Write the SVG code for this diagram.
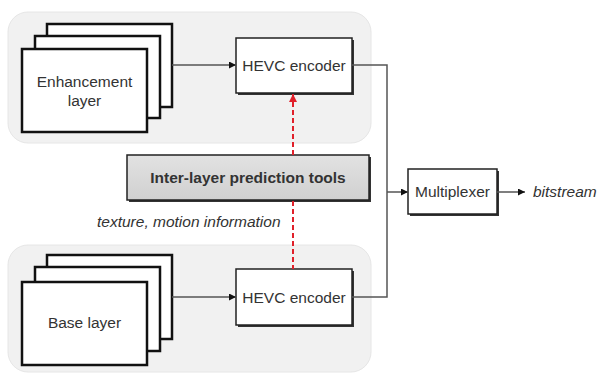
<svg xmlns="http://www.w3.org/2000/svg" width="600" height="374" viewBox="0 0 600 374">
<defs>
<style>
.panel{fill:#f1f1f1;stroke:#e6e6e6;stroke-width:1}
.frame{fill:#fff;stroke:#111;stroke-width:2.5}
.box{fill:#fff;stroke:#222;stroke-width:1.5}
.shadow{fill:#333}
.lbl{font-family:"Liberation Sans",Arial,sans-serif;font-size:15.5px;fill:#333;text-anchor:middle}
.it{font-family:"Liberation Sans",Arial,sans-serif;font-size:15.5px;fill:#333;font-style:italic}
.conn{fill:none;stroke:#555;stroke-width:1.5}
.red{fill:none;stroke:#e0202a;stroke-width:2;stroke-dasharray:5,3}
</style>
<linearGradient id="g" x1="0" y1="0" x2="0" y2="1">
<stop offset="0" stop-color="#e2e2e2"/>
<stop offset="1" stop-color="#d0d0d0"/>
</linearGradient>
<marker id="ah" viewBox="0 0 10 10" refX="10" refY="5" markerWidth="7" markerHeight="7" markerUnits="userSpaceOnUse" orient="auto">
<path d="M0,0 L10,5 L0,10 z" fill="#111"/>
</marker>
<marker id="ahr" viewBox="0 0 10 10" refX="10" refY="5" markerWidth="8" markerHeight="8" markerUnits="userSpaceOnUse" orient="auto">
<path d="M0,0 L10,5 L0,10 z" fill="#e0202a"/>
</marker>
</defs>
<rect width="600" height="374" fill="#fff"/>
<g id="enh-panel"><rect class="panel" x="8" y="12" width="363" height="131" rx="20"/></g>
<g id="base-panel"><rect class="panel" x="8" y="245" width="363" height="127" rx="20"/></g>
<g id="enhancement-layer">
<rect class="frame" x="47" y="24" width="125" height="83"/>
<rect class="frame" x="35" y="36" width="125" height="82"/>
<rect class="frame" x="22" y="49" width="125" height="83"/>
<text class="lbl" x="84.5" y="87">Enhancement</text>
<text class="lbl" x="84.5" y="106">layer</text>
</g>
<g id="base-layer">
<rect class="frame" x="47" y="255" width="125" height="84"/>
<rect class="frame" x="35" y="267" width="125" height="84"/>
<rect class="frame" x="22" y="282" width="125" height="83"/>
<text class="lbl" x="84.5" y="328">Base layer</text>
</g>
<g id="hevc-top">
<rect class="shadow" x="238" y="40" width="116" height="55"/>
<rect class="box" x="236" y="38" width="116" height="55"/>
<text class="lbl" x="294" y="71">HEVC encoder</text>
</g>
<g id="hevc-bottom">
<rect class="shadow" x="238" y="271" width="116" height="56"/>
<rect class="box" x="236" y="269" width="116" height="56"/>
<text class="lbl" x="294" y="303">HEVC encoder</text>
</g>
<g id="inter-layer">
<rect class="shadow" x="129" y="157" width="242" height="45"/>
<rect x="127" y="155" width="242" height="45" fill="url(#g)" stroke="#222" stroke-width="1.5"/>
<text class="lbl" x="248" y="183" font-weight="bold" fill="#222">Inter-layer prediction tools</text>
</g>
<g id="multiplexer">
<rect class="shadow" x="410" y="171" width="89" height="45"/>
<rect class="box" x="408" y="169" width="89" height="45"/>
<text class="lbl" x="452.5" y="197">Multiplexer</text>
</g>
<g id="bitstream-label"><text class="it" x="533" y="197">bitstream</text></g>
<g id="info-label"><text class="it" x="97" y="227">texture, motion information</text></g>
<g id="connectors">
<line class="conn" x1="172" y1="65" x2="236" y2="65" marker-end="url(#ah)"/>
<line class="conn" x1="172" y1="297" x2="236" y2="297" marker-end="url(#ah)"/>
<polyline class="conn" points="352,65 387,65 387,297 352,297"/>
<line class="conn" x1="387" y1="192" x2="408" y2="192" marker-end="url(#ah)"/>
<line class="conn" x1="497" y1="192" x2="525" y2="192" marker-end="url(#ah)"/>
<line class="red" x1="293" y1="155" x2="293" y2="94" marker-end="url(#ahr)"/>
<line class="red" x1="293" y1="201" x2="293" y2="269"/>
</g>
</svg>
